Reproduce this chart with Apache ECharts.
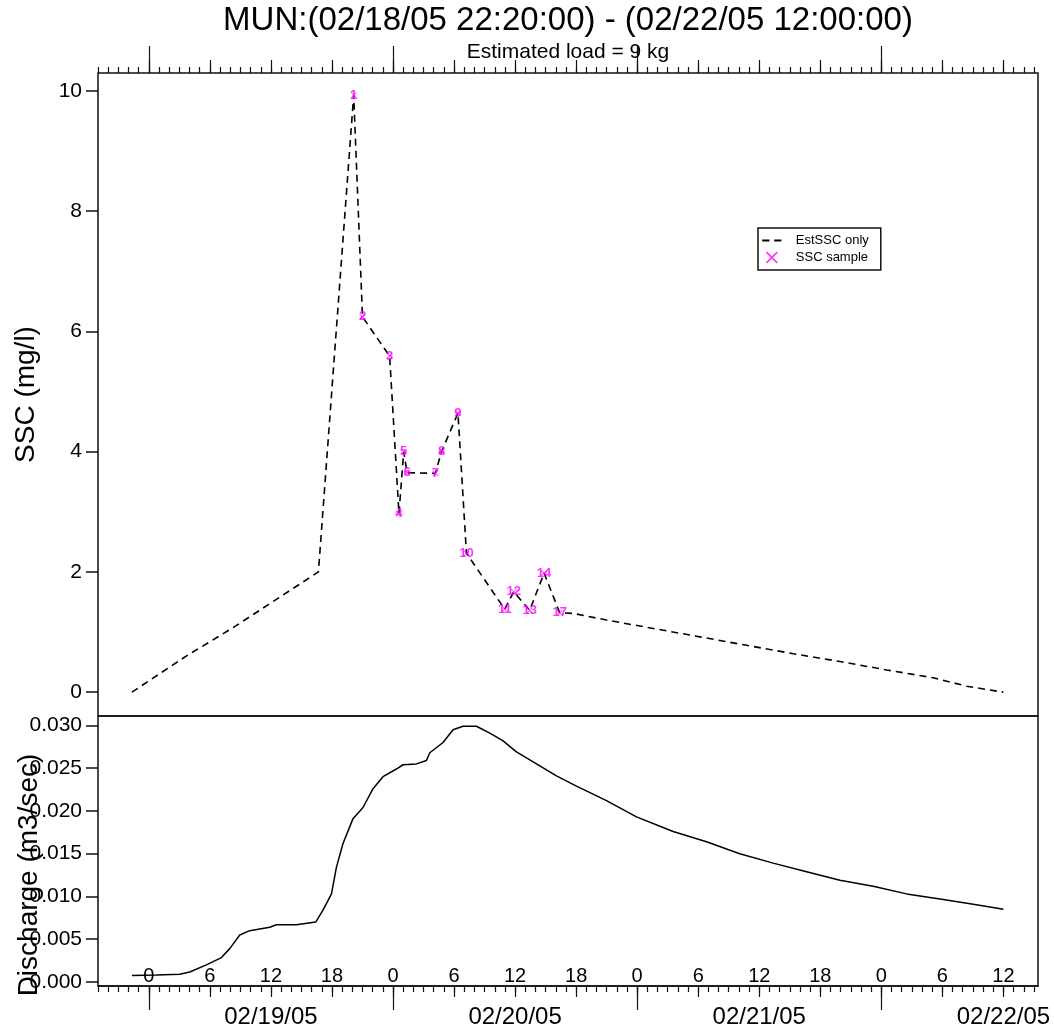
<!DOCTYPE html>
<html>
<head>
<meta charset="utf-8">
<script src="https://cdn.jsdelivr.net/npm/echarts@6/dist/echarts.min.js"></script>
<style>html,body{margin:0;padding:0;background:#fff;}#c{width:1054px;height:1032px;}</style>
</head>
<body>
<div id="c"></div>
<script>
// ---- data ----
const sscTimes = ['2005-02-18 22:20','2005-02-19 03:40','2005-02-19 08:15','2005-02-19 16:40','2005-02-19 20:08','2005-02-19 21:00','2005-02-19 23:40','2005-02-20 00:35','2005-02-20 01:03','2005-02-20 01:23','2005-02-20 04:10','2005-02-20 04:46','2005-02-20 06:23','2005-02-20 07:13','2005-02-20 10:59','2005-02-20 11:52','2005-02-20 13:26','2005-02-20 14:51','2005-02-20 16:23','2005-02-20 17:42','2005-02-20 20:59','2005-02-21 01:34','2005-02-21 06:10','2005-02-21 10:45','2005-02-21 15:20','2005-02-21 19:56','2005-02-22 00:31','2005-02-22 05:06','2005-02-22 08:23','2005-02-22 12:00'];
const sscValues = [0, 0.60, 1.07, 2.0, 9.93, 6.24, 5.59, 2.97, 4.00, 3.65, 3.64, 4.00, 4.64, 2.31, 1.38, 1.67, 1.36, 1.98, 1.32, 1.31, 1.20, 1.06, 0.92, 0.78, 0.64, 0.51, 0.37, 0.24, 0.10, 0];

const sampleIds = ['1','2','3','4','5','6','7','8','9','10','11','12','13','14','17'];
const sampleTimes = ['2005-02-19 20:08','2005-02-19 21:00','2005-02-19 23:40','2005-02-20 00:35','2005-02-20 01:03','2005-02-20 01:23','2005-02-20 04:10','2005-02-20 04:46','2005-02-20 06:23','2005-02-20 07:13','2005-02-20 10:59','2005-02-20 11:52','2005-02-20 13:26','2005-02-20 14:51','2005-02-20 16:23'];
const sampleValues = [9.93, 6.24, 5.59, 2.97, 4.00, 3.65, 3.64, 4.00, 4.64, 2.31, 1.38, 1.67, 1.36, 1.98, 1.32];

const qTimes = ['2005-02-18 22:20','2005-02-19 00:44','2005-02-19 03:02','2005-02-19 04:01','2005-02-19 05:39','2005-02-19 07:08','2005-02-19 07:57','2005-02-19 08:56','2005-02-19 09:55','2005-02-19 11:53','2005-02-19 12:32','2005-02-19 14:30','2005-02-19 16:24','2005-02-19 17:07','2005-02-19 17:57','2005-02-19 18:26','2005-02-19 19:05','2005-02-19 20:04','2005-02-19 21:03','2005-02-19 22:02','2005-02-19 23:01','2005-02-20 00:20','2005-02-20 00:59','2005-02-20 02:18','2005-02-20 03:17','2005-02-20 03:37','2005-02-20 04:55','2005-02-20 05:54','2005-02-20 06:53','2005-02-20 08:12','2005-02-20 09:31','2005-02-20 10:49','2005-02-20 12:08','2005-02-20 14:06','2005-02-20 16:04','2005-02-20 18:02','2005-02-20 20:59','2005-02-20 23:56','2005-02-21 03:32','2005-02-21 06:49','2005-02-21 10:05','2005-02-21 13:22','2005-02-21 16:39','2005-02-21 19:56','2005-02-21 23:12','2005-02-22 02:29','2005-02-22 05:46','2005-02-22 09:02','2005-02-22 12:00'];
const qValues = [0.00075,0.00082,0.0009,0.00117,0.0020,0.00285,0.0039,0.0055,0.0060,0.0064,0.0067,0.0067,0.0070,0.0084,0.0103,0.0134,0.0162,0.0191,0.0204,0.0226,0.0240,0.0249,0.0254,0.0255,0.0259,0.0268,0.0280,0.0295,0.0299,0.0299,0.0291,0.0282,0.0269,0.0255,0.0241,0.0229,0.0212,0.0193,0.0176,0.0164,0.0150,0.0139,0.0129,0.0119,0.0112,0.0103,0.0097,0.0091,0.0085];

const sscTickValues = [0, 2, 4, 6, 8, 10];
const qTickValues = [0, 0.005, 0.010, 0.015, 0.020, 0.025, 0.030];

const titleText = 'MUN:(02/18/05 22:20:00) - (02/22/05 12:00:00)';
const subText = 'Estimated load = 9 kg';

// ---- helpers ----
const H = 3600e3;
const t = s => Date.parse(s.replace(' ', 'T') + ':00Z');
const xMin = t('2005-02-18 19:00');
const xMax = t('2005-02-22 15:24');
function stepValues(step, offset) {
  const out = [];
  for (let v = Math.ceil((xMin - offset) / step) * step + offset; v <= xMax; v += step) out.push(v);
  return out;
}
const hourTicks = stepValues(H, 0);
const sixTicks = stepValues(6 * H, 0);
const dayTicks = stepValues(24 * H, 0);
const noonTicks = stepValues(24 * H, 12 * H);
const pad2 = n => (n < 10 ? '0' : '') + n;

const FONT = 'Liberation Sans, Arial, sans-serif';
const INK = '#111';

function xAx(grid, pos, ticks, len, extra) {
  return Object.assign({
    type: 'value', gridIndex: grid, position: pos, min: xMin, max: xMax,
    axisLine: {show: false, onZero: false},
    axisTick: {show: true, customValues: ticks, length: len, lineStyle: {color: INK, width: 1.2}},
    axisLabel: {show: false},
    splitLine: {show: false}
  }, extra || {});
}

const G0 = {left: 98, right: 16, top: 73, height: 643};
const G1 = {left: 98, right: 16, top: 716, height: 270};

const option = {
  animation: false,
  backgroundColor: '#fff',
  textStyle: {fontFamily: FONT, color: '#000'},
  title: [
    {text: titleText, left: 568, top: 4, padding: 0, textAlign: 'center',
     textStyle: {fontSize: 33, fontWeight: 'normal', color: '#000', fontFamily: FONT}},
    {text: subText, left: 568, top: 42, padding: 0, textAlign: 'center',
     textStyle: {fontSize: 21, fontWeight: 'normal', color: '#000', fontFamily: FONT}}
  ],
  legend: {
    data: [
      {name: 'EstSSC only', icon: 'path://M0,0h0.01v0.01h-0.01z M1,4.2h6v1.6h-6z M11,4.2h6v1.6h-6z M17.99,9.99h0.01v0.01h-0.01z',
       itemStyle: {color: '#000'}},
      {name: 'SSC sample'}
    ],
    orient: 'vertical', left: 758, top: 228,
    padding: [6, 12, 6, 3], itemGap: 4, itemWidth: 26, itemHeight: 12,
    borderColor: INK, borderWidth: 1.5, backgroundColor: '#fff',
    textStyle: {fontSize: 13, color: '#000', fontFamily: FONT, padding: [0, 0, 0, 6]}
  },
  grid: [
    Object.assign({show: true, borderColor: INK, borderWidth: 1.5, backgroundColor: 'transparent', outerBoundsMode: 'none'}, G0),
    Object.assign({show: true, borderColor: INK, borderWidth: 1.5, backgroundColor: 'transparent', outerBoundsMode: 'none'}, G1)
  ],
  xAxis: [
    xAx(0, 'top', hourTicks, 6),
    xAx(0, 'top', sixTicks, 13),
    xAx(0, 'top', dayTicks, 27),
    xAx(1, 'bottom', hourTicks, 6, {axisLine: {show: true, onZero: false, lineStyle: {color: INK, width: 1.5}}}),
    xAx(1, 'bottom', sixTicks, 11),
    xAx(1, 'bottom', dayTicks, 24),
    xAx(1, 'bottom', [], 0, {
      axisTick: {show: false},
      axisLabel: {show: true, inside: true, margin: 0, customValues: sixTicks, fontSize: 20, color: '#000',
        formatter: v => String(new Date(v).getUTCHours())}
    }),
    xAx(1, 'bottom', [], 0, {
      axisTick: {show: false},
      axisLabel: {show: true, margin: 19, customValues: noonTicks, fontSize: 24, color: '#000',
        formatter: v => { const d = new Date(v); return pad2(d.getUTCMonth() + 1) + '/' + pad2(d.getUTCDate()) + '/' + pad2(d.getUTCFullYear() % 100); }}
    })
  ],
  yAxis: [
    {type: 'value', gridIndex: 0, min: -0.396, max: 10.296,
     name: 'SSC (mg/l)', nameLocation: 'middle', nameGap: 58, nameMoveOverlap: false,
     nameTextStyle: {fontSize: 28, color: '#000', fontFamily: FONT},
     axisLine: {show: false, onZero: false},
     axisTick: {show: true, customValues: sscTickValues, length: 12, lineStyle: {color: INK, width: 1.5}},
     axisLabel: {show: true, customValues: sscTickValues, margin: 16, fontSize: 21, color: '#000'},
     splitLine: {show: false}},
    {type: 'value', gridIndex: 1, min: -0.00047, max: 0.0311,
     name: 'Discharge (m3/sec)', nameLocation: 'middle', nameGap: 55, nameMoveOverlap: false,
     nameTextStyle: {fontSize: 28, color: '#000', fontFamily: FONT, padding: [0, 48, 0, 0]},
     axisLine: {show: false, onZero: false},
     axisTick: {show: true, customValues: qTickValues, length: 12, lineStyle: {color: INK, width: 1.5}},
     axisLabel: {show: true, customValues: qTickValues, margin: 16, fontSize: 21, color: '#000',
       formatter: v => v.toFixed(3)},
     splitLine: {show: false}}
  ],
  series: [
    {name: 'EstSSC only', type: 'line', xAxisIndex: 0, yAxisIndex: 0,
     data: sscTimes.map((s, i) => [t(s), sscValues[i]]),
     symbol: 'none', itemStyle: {color: '#000'},
     lineStyle: {color: '#000', width: 1.6, type: [7, 5]}},
    {name: 'SSC sample', type: 'scatter', xAxisIndex: 0, yAxisIndex: 0,
     data: sampleTimes.map((s, i) => ({name: sampleIds[i], value: [t(s), sampleValues[i]]})),
     symbol: 'path://M0,1L1,0L5,4L9,0L10,1L6,5L10,9L9,10L5,6L1,10L0,9L4,5Z', symbolSize: 6,
     itemStyle: {color: '#ff00ff'},
     label: {show: true, position: 'inside', formatter: p => p.name, color: '#ff00ff', fontSize: 13, fontWeight: 'bold', fontFamily: FONT},
     z: 5},
    {name: 'Discharge', type: 'line', xAxisIndex: 3, yAxisIndex: 1,
     data: qTimes.map((s, i) => [t(s), qValues[i]]),
     symbol: 'none', itemStyle: {color: '#000'},
     lineStyle: {color: '#000', width: 1.5}}
  ]
};

const chart = echarts.init(document.getElementById('c'), null, {renderer: 'canvas'});
chart.setOption(option);
</script>
</body>
</html>
